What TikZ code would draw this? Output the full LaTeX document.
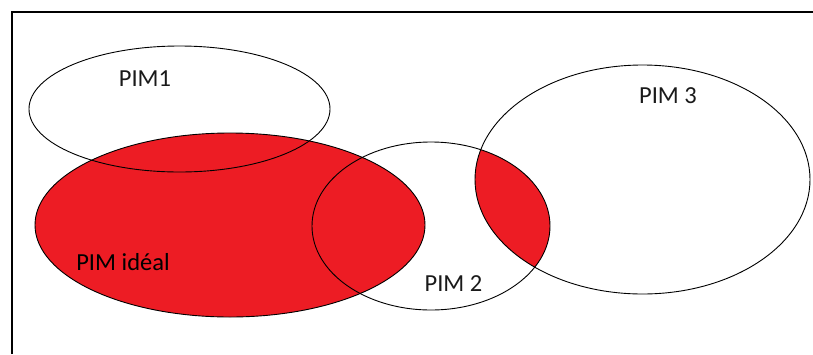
\documentclass[tikz,border=0pt]{standalone}
\usepackage{fontspec}
\setmainfont{Carlito}
\definecolor{paintred}{HTML}{ED1C24}
\definecolor{labelink}{HTML}{1A1A1A}
\begin{document}
\begin{tikzpicture}[x=1pt,y=-1pt,
  outline/.style={draw=black,line width=0.9pt},
  lbl/.style={inner sep=0pt,text=labelink,font=\fontsize{24.5}{28}\selectfont}]
\useasboundingbox (0,0) rectangle (813,354);
% frame
\draw[line width=1.1pt] (12,354) -- (12,12) -- (813,12);
% ideal (red) ellipse
\fill[paintred] (230,225) ellipse [x radius=195, y radius=92];
% intersection PIM2 & PIM3
\begin{scope}
  \clip (431,226) ellipse [x radius=119, y radius=84];
  \fill[paintred] (642.5,179.5) ellipse [x radius=167.5, y radius=114.5];
\end{scope}
% outlines
\draw[outline] (230,225) ellipse [x radius=195, y radius=92];
\draw[outline] (179.5,109) ellipse [x radius=150.5, y radius=63];
\draw[outline] (431,226) ellipse [x radius=119, y radius=84];
\draw[outline] (642.5,179.5) ellipse [x radius=167.5, y radius=114.5];
% labels
\node[lbl] (pim1) at (145,79) {PIM1};
\node[lbl] (pim3) at (668,96) {PIM 3};
\node[lbl] (pim2) at (453.5,284) {PIM 2};
\node[lbl,text=black] (pimideal) at (123,262) {PIM idéal};
\end{tikzpicture}
\end{document}
